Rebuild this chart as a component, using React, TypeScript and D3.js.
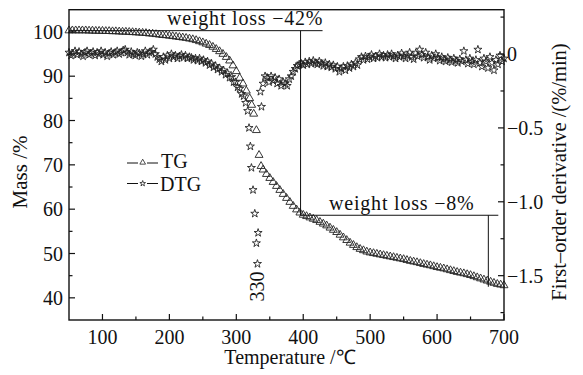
import React from 'react';
import * as d3 from 'd3';

// ---------- data ----------
const xTicks = [100, 200, 300, 400, 500, 600, 700];
const xMinorTicks = [150, 250, 350, 450, 550, 650];
const yLeftTicks = [40, 50, 60, 70, 80, 90, 100];
const yLeftMinor = [45, 55, 65, 75, 85, 95];
const yRightTicks = [0, -0.5, -1.0, -1.5];
const yRightMinor = [0.25, -0.25, -0.75, -1.25, -1.75];
const yRightLabels = ['0', '\u22120.5', '\u22121.0', '\u22121.5'];

// TG (mass %) sampled every 5 °C from 50 to 300
const tgEarly = [
  100.3, 100.3, 100.3, 100.3, 100.3, 100.3, 100.25, 100.25, 100.2, 100.2,
  100.2, 100.15, 100.15, 100.1, 100.1, 100.05, 100.0, 100.0, 99.95, 99.9,
  99.85, 99.8, 99.75, 99.7, 99.6, 99.55, 99.45, 99.35, 99.25, 99.2,
  99.1, 99.0, 98.9, 98.8, 98.7, 98.6, 98.45, 98.3, 98.1, 97.85,
  97.6, 97.3, 97.0, 96.6, 96.1, 95.6, 95.0, 94.3, 93.5, 92.4, 91.1,
];
// TG around the main decomposition step [temperature, mass]
const tgPeak: [number, number][] = [
  [305, 89.6], [310, 88.3], [315, 86.7], [320, 85.0], [323, 83.5],
  [326, 81.5], [330, 77.8], [334, 72.2], [337, 69.7],
];
// TG every 5 °C from 340 to 700
const tgLate = [
  68.9, 67.9, 67.0, 66.1, 65.2, 64.3, 63.4, 62.5, 61.6, 60.7, 59.9, 59.2,
  58.7, 58.4, 58.1, 57.8, 57.5, 57.1, 56.7, 56.3, 55.8, 55.3, 54.8, 54.2,
  53.6, 53.0, 52.4, 51.9, 51.4, 51.0, 50.7, 50.4,
  50.2, 50.05, 49.9, 49.75, 49.6, 49.45, 49.3, 49.15, 49.0, 48.85, 48.7, 48.5,
  48.3, 48.15, 48.0, 47.8, 47.6, 47.45, 47.3, 47.1,
  46.9, 46.75, 46.6, 46.4, 46.2, 46.0, 45.8, 45.65, 45.5, 45.3, 45.1, 44.85,
  44.6, 44.35, 44.1, 43.85, 43.6, 43.35, 43.1, 42.95, 42.8,
];

// DTG (%/min) every 3 °C from 50 to 317
const dtgEarly = [
  0.01, -0.01, 0.005, 0.02, -0.005, 0.015, 0.0, -0.015, 0.01, 0.02,
  -0.005, 0.005, 0.015, -0.01, 0.01, 0.0, 0.02, -0.005, 0.01, -0.015,
  0.005, 0.015, -0.005, 0.01, 0.02, 0.0, 0.01, 0.025, 0.03, 0.01,
  -0.005, 0.015, 0.0, -0.01, 0.01, 0.005, -0.015, 0.0, 0.02, -0.005,
  0.01, 0.015, 0.03, 0.0, -0.02, -0.035, -0.05, -0.02, -0.04, -0.01,
  -0.03, 0.0, -0.02, -0.01, -0.03, -0.015, -0.005, -0.025, -0.01, -0.03,
  -0.02, -0.025, -0.04, -0.03, -0.045, -0.03, -0.05, -0.04, -0.06, -0.05,
  -0.075, -0.065, -0.09, -0.08, -0.105, -0.095, -0.12, -0.11, -0.14, -0.13,
  -0.16, -0.155, -0.19, -0.19, -0.225, -0.235, -0.27, -0.285, -0.33, -0.385,
];
// DTG around the peak [temperature, value]
const dtgPeak: [number, number][] = [
  [319, -0.5], [321, -0.625], [322.6, -0.77], [325, -0.92], [327.6, -1.08],
  [330, -1.28], [331.6, -1.42], [332.6, -1.21], [336, -0.255], [337.6, -0.357],
];
// DTG every 3 °C from 340 to 700
const dtgLate = [
  -0.2, -0.15, -0.16, -0.19, -0.15, -0.18, -0.16, -0.2, -0.17, -0.215,
  -0.19, -0.2, -0.215, -0.17, -0.15, -0.12, -0.1, -0.08, -0.07, -0.065,
  -0.075, -0.055, -0.07, -0.05, -0.065, -0.045, -0.06, -0.07, -0.05, -0.065,
  -0.08, -0.06, -0.085, -0.07, -0.09, -0.075, -0.1, -0.085, -0.12, -0.1,
  -0.085, -0.11, -0.08, -0.095, -0.07, -0.085, -0.06, -0.075, -0.035, -0.02,
  -0.04, -0.015, -0.035, -0.02, -0.005, -0.03, -0.015, -0.025, 0.0, -0.02,
  -0.01, -0.025, -0.005, -0.02, 0.0, -0.015, -0.03, -0.01, -0.02, 0.005,
  -0.015, -0.03, -0.01, 0.01, -0.02, -0.035, 0.005, -0.015, 0.03, -0.005,
  -0.025, 0.01, -0.02, -0.04, -0.01, -0.03, 0.0, -0.025, -0.045, -0.02,
  -0.035, -0.05, -0.025, -0.04, -0.055, -0.03, -0.045, -0.06, -0.035, -0.05,
  0.02, -0.04, -0.065, -0.03, -0.05, -0.07, -0.04, 0.03, -0.06, -0.085,
  -0.03, -0.05, -0.095, -0.02, -0.06, -0.11, -0.04, -0.07, -0.01, -0.05,
  -0.03,
];

// annotations
const loss1Text = 'weight loss \u221242%';
const loss2Text = 'weight loss \u22128%';
const peakText = '330';
const annot1 = { t0: 50, t1: 396, level: 100.27, bottom: 58.63 };
const annot2 = { t0: 396, t1: 691.5, level: 58.63, drop: 676.6, bottom: 42.5 };

const FONT = "'Liberation Serif', 'Times New Roman', serif";
const INK = '#111';

export default function App() {
  const L = 69, R = 504, T = 9.7, B = 320;
  const x = d3.scaleLinear().domain([50, 700]).range([L, R]);
  const yL = d3.scaleLinear().domain([35, 105]).range([B, T]);
  const yR = d3.scaleLinear().domain([-1.8, 0.3]).range([B, T]);

  const tgPts: [number, number][] = [
    ...tgEarly.map((v, i) => [50 + 5 * i, v] as [number, number]),
    ...tgPeak,
    ...tgLate.map((v, i) => [340 + 5 * i, v] as [number, number]),
  ];
  const dtgPts: [number, number][] = [
    ...dtgEarly.map((v, i) => [50 + 3 * i, v] as [number, number]),
    ...dtgPeak,
    ...dtgLate.map((v, i) => [340 + 3 * i, v] as [number, number]),
  ];

  const tri = d3.symbol(d3.symbolTriangle, 27)() as string;
  const star = d3.symbol(d3.symbolStar, 20)() as string;
  const triSmall = d3.symbol(d3.symbolTriangle, 14)() as string;
  const starSmall = d3.symbol(d3.symbolStar, 10)() as string;

  const tickStroke = { stroke: INK, strokeWidth: 1.2 };

  return (
    <svg width={583} height={375} viewBox="0 0 583 375"
      style={{ position: 'absolute', left: 0, top: 0, background: '#fff' }}
      fontFamily={FONT}>
      <rect x={0} y={0} width={583} height={375} fill="#fff" />

      {/* markers */}
      <g fill="none" stroke="#222" strokeWidth={0.9}>
        {tgPts.map(([t, v], i) => (
          <path key={'tg' + i} d={tri} transform={`translate(${x(t)},${yL(v)})`} />
        ))}
        {dtgPts.map(([t, v], i) => (
          <path key={'dtg' + i} d={star} transform={`translate(${x(t)},${yR(v)})`} />
        ))}
      </g>

      {/* frame */}
      <rect x={L} y={T} width={R - L} height={B - T} fill="none" stroke={INK} strokeWidth={1.4} />

      {/* bottom ticks */}
      {xTicks.map((t) => (
        <g key={'xt' + t}>
          <line x1={x(t)} x2={x(t)} y1={B} y2={B - 6} {...tickStroke} />
          <text x={x(t)} y={344} textAnchor="middle" fontSize={20} fill={INK}>{t}</text>
        </g>
      ))}
      {xMinorTicks.map((t) => (
        <line key={'xm' + t} x1={x(t)} x2={x(t)} y1={B} y2={B - 3.5} {...tickStroke} />
      ))}

      {/* left ticks */}
      {yLeftTicks.map((t) => (
        <g key={'yl' + t}>
          <line x1={L} x2={L + 6} y1={yL(t)} y2={yL(t)} {...tickStroke} />
          <text x={63} y={yL(t)} dy="0.35em" textAnchor="end" fontSize={20} fill={INK}>{t}</text>
        </g>
      ))}
      {yLeftMinor.map((t) => (
        <line key={'ylm' + t} x1={L} x2={L + 3.5} y1={yL(t)} y2={yL(t)} {...tickStroke} />
      ))}

      {/* right ticks */}
      {yRightTicks.map((t, i) => (
        <g key={'yr' + t}>
          <line x1={R} x2={R - 6} y1={yR(t)} y2={yR(t)} {...tickStroke} />
          <text x={507} y={yR(t)} dy="0.35em" textAnchor="start" fontSize={20} fill={INK}>{yRightLabels[i]}</text>
        </g>
      ))}
      {yRightMinor.map((t) => (
        <line key={'yrm' + t} x1={R} x2={R - 3.5} y1={yR(t)} y2={yR(t)} {...tickStroke} />
      ))}

      {/* axis titles */}
      <text x={290} y={364} textAnchor="middle" fontSize={20} fill={INK}>Temperature /℃</text>
      <text transform="translate(27,172) rotate(-90)" textAnchor="middle" fontSize={21} fill={INK}>Mass /%</text>
      <text transform="translate(566,172) rotate(-90)" textAnchor="middle" fontSize={20.5} fill={INK}>First–order derivative /(%/min)</text>

      {/* annotations */}
      <g stroke={INK} strokeWidth={1}>
        <line x1={x(annot1.t0)} x2={x(annot1.t1) + 22} y1={yL(annot1.level)} y2={yL(annot1.level)} />
        <line x1={x(annot1.t1)} x2={x(annot1.t1)} y1={yL(annot1.level)} y2={yL(annot1.bottom)} />
        <line x1={x(annot2.t0)} x2={x(annot2.t1)} y1={yL(annot2.level)} y2={yL(annot2.level)} />
        <line x1={x(annot2.drop)} x2={x(annot2.drop)} y1={yL(annot2.level)} y2={yL(annot2.bottom)} />
      </g>
      <text x={167} y={25.3} fontSize={20} letterSpacing={0.8} fill={INK}>{loss1Text}</text>
      <text x={329} y={210} fontSize={20} letterSpacing={0.8} fill={INK}>{loss2Text}</text>
      <text transform={`translate(${x(330) + 8},${286.5}) rotate(-90)`} textAnchor="middle" fontSize={20} fill={INK}>{peakText}</text>

      {/* legend */}
      <g stroke={INK} strokeWidth={1} fill="none">
        <line x1={127} x2={138} y1={163} y2={163} />
        <line x1={147} x2={158} y1={163} y2={163} />
        <path d={triSmall} transform="translate(142.7,162.5)" stroke="#222" strokeWidth={0.8} />
        <line x1={127} x2={138} y1={183.5} y2={183.5} />
        <line x1={147} x2={158} y1={183.5} y2={183.5} />
        <path d={starSmall} transform="translate(142.7,183.5)" stroke="#222" strokeWidth={0.8} />
      </g>
      <text x={161} y={168} fontSize={20} fill={INK}>TG</text>
      <text x={160} y={190.5} fontSize={20} fill={INK}>DTG</text>
    </svg>
  );
}
